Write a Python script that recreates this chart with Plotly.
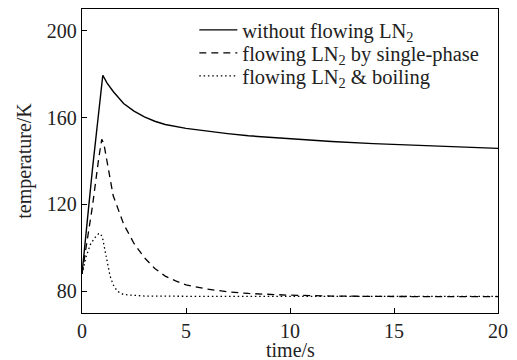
import plotly.graph_objects as go

# Data
t_solid = [0, 0.5, 1.0, 1.2, 1.5, 2, 2.5, 3, 3.5, 4, 5, 6, 7, 8, 10, 12, 14, 16, 18, 20]
T_solid = [88, 136, 179.5, 176, 172, 166.5, 163, 160.3, 158.3, 156.8, 155, 153.7, 152.6,
           151.6, 150.2, 149, 148, 147.3, 146.5, 145.8]

t_dash = [0, 0.3, 0.5, 0.8, 0.95, 1.05, 1.2, 1.5, 2, 2.5, 3, 3.5, 4, 4.5, 5, 6, 7, 8, 10, 12, 15, 20]
T_dash = [88, 107, 119, 141, 150, 148, 140, 124, 111, 102, 95.5, 90.5, 87, 84.8, 83, 81, 79.8,
          79, 78.2, 77.8, 77.6, 77.5]

t_dot = [0, 0.2, 0.4, 0.6, 0.8, 0.9, 1.0, 1.1, 1.2, 1.35, 1.5, 1.7, 2.0, 2.5, 3, 5, 10, 15, 20]
T_dot = [88, 96, 101.5, 104.5, 106.5, 106.5, 104, 99, 93, 87, 83, 80, 78.5, 78, 77.8, 77.7,
         77.7, 77.7, 77.7]

names = ["without flowing LN<sub>2</sub>",
         "flowing LN<sub>2</sub> by single-phase",
         "flowing LN<sub>2</sub> &amp; boiling"]

x_ticks = [0, 5, 10, 15, 20]
y_ticks = [80, 120, 160, 200]
x_title = "time/s"
y_title = "temperature/K"

FONT = "Liberation Serif"
TXT = "#222"

fig = go.Figure()
fig.add_trace(go.Scatter(x=t_solid, y=T_solid, mode="lines", name=names[0], legend="legend",
                         line=dict(color="black", width=1.4, dash="solid")))
fig.add_trace(go.Scatter(x=t_dash, y=T_dash, mode="lines", name=names[1], legend="legend2",
                         line=dict(color="black", width=1.3, dash="7px,5px")))
fig.add_trace(go.Scatter(x=t_dot, y=T_dot, mode="lines", name=names[2], legend="legend3",
                         line=dict(color="black", width=1.3, dash="1.5px,2.8px")))

axis_common = dict(showgrid=False, zeroline=False, showline=True, linecolor="black",
                   linewidth=1.3, mirror=True, ticks="inside", ticklen=5, tickwidth=1.2,
                   tickcolor="black", tickfont=dict(family=FONT, size=20, color=TXT))

# page body has an 8px margin: compensate so the plot area lands where the reference has it
PLOT_TOP, PLOT_H = 9, 304
def leg(yc):
    return dict(x=0.27, y=1 - (yc - PLOT_TOP) / PLOT_H, xanchor="left", yanchor="middle",
                bgcolor="rgba(0,0,0,0)", font=dict(family=FONT, size=20.5, color=TXT),
                itemwidth=38, borderwidth=0)

fig.update_layout(
    width=509, height=352,
    margin=dict(l=74, r=19, t=1, b=47, autoexpand=False),
    paper_bgcolor="white", plot_bgcolor="white",
    font=dict(family=FONT, size=20, color=TXT),
    xaxis=dict(range=[0, 20], tickvals=x_ticks, ticklabelstandoff=0, **axis_common),
    yaxis=dict(range=[70, 210], tickvals=y_ticks,
               title=dict(text=y_title, font=dict(family=FONT, size=20), standoff=9),
               **axis_common),
    legend=leg(30), legend2=leg(53), legend3=leg(76),
    showlegend=True,
    annotations=[dict(text=x_title, xref="paper", yref="paper", x=0.5, y=0,
                      xanchor="center", yanchor="middle", yshift=-37, showarrow=False,
                      font=dict(family=FONT, size=20, color=TXT))],
)

fig.write_html("out.html")
